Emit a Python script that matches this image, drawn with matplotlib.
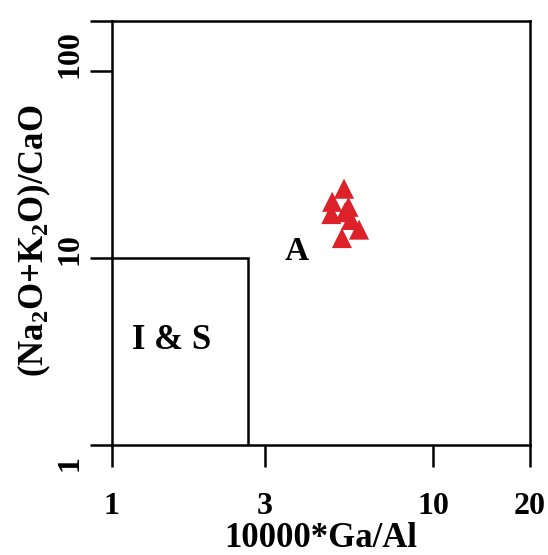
import matplotlib
matplotlib.use("Agg")
import matplotlib.pyplot as plt
import matplotlib.transforms as mtransforms
from matplotlib.ticker import FixedLocator, NullLocator, NullFormatter

plt.rcParams['font.family'] = ['Liberation Serif', 'DejaVu Serif']
plt.rcParams['font.weight'] = 'bold'
plt.rcParams['mathtext.fontset'] = 'custom'
plt.rcParams['mathtext.rm'] = 'Liberation Serif:bold'
plt.rcParams['mathtext.it'] = 'Liberation Serif:bold'
plt.rcParams['mathtext.bf'] = 'Liberation Serif:bold'
plt.rcParams['mathtext.default'] = 'rm'

# samples: 10000*Ga/Al vs (Na2O+K2O)/CaO
ga_al = [5.28, 4.85, 4.82, 5.45, 5.55, 5.88, 5.20, 5.32]
alk_cao = [23.5, 20.0, 17.2, 18.8, 16.0, 14.2, 12.8, 17.6]

# I & S field boundary
ga_al_limit = 2.65
alk_limit = 10

x_ticks = [1, 3, 10, 20]
y_ticks = [1, 10, 100]
x_range = (1, 20)
y_range = (1, 185)

fig = plt.figure(figsize=(5.48, 5.55), dpi=100)
ax = fig.add_axes([0.204, 0.198, 0.763, 0.764])

ax.set_xscale('log')
ax.set_yscale('log')
ax.set_xlim(x_range)
ax.set_ylim(y_range)

# field boundaries
ax.plot([x_range[0], ga_al_limit, ga_al_limit], [alk_limit, alk_limit, y_range[0]],
        color='black', lw=1.8, solid_joinstyle='miter')

ax.scatter(ga_al, alk_cao, marker='^', s=210, color='#dc2228', edgecolors='none', zorder=3)

ax.text(3.75, 10.8, 'A', fontsize=24, fontweight='bold', ha='center', va='center')
ax.text(1.53, 3.62, 'I & S', fontsize=25, fontweight='bold', ha='center', va='center')

ax.xaxis.set_major_locator(FixedLocator(x_ticks))
ax.xaxis.set_minor_locator(NullLocator())
ax.set_xticklabels([str(v) for v in x_ticks])
ax.yaxis.set_major_locator(FixedLocator(y_ticks + [y_range[1]]))
ax.yaxis.set_minor_locator(NullLocator())
ax.yaxis.set_major_formatter(NullFormatter())

ax.tick_params(axis='both', direction='out', length=16, width=1.8, labelsize=23)
ax.tick_params(axis='x', pad=18)
for sp in ax.spines.values():
    sp.set_linewidth(1.8)

# y tick labels: rotated, sitting just above each tick
ytrans = ax.get_yaxis_transform()
for v in y_ticks:
    if v == 1:
        tr = mtransforms.offset_copy(ytrans, fig=fig, y=-10, units='dots')
        va = 'top'
    else:
        tr = mtransforms.offset_copy(ytrans, fig=fig, y=-7, units='dots')
        va = 'bottom'
    ax.text(-0.1, v, str(v), transform=tr, rotation=90, fontsize=23,
            fontweight='bold', ha='center', va=va, clip_on=False)

ax.set_xlabel('10000*Ga/Al', fontsize=25, fontweight='bold')
ax.set_ylabel(r'(Na$_2$O+K$_2$O)/CaO', fontsize=25, fontweight='bold')
ax.xaxis.set_label_coords(0.5, -0.182)
ax.yaxis.set_label_coords(-0.141, 0.483)

fig.savefig('out.png', dpi=100)
